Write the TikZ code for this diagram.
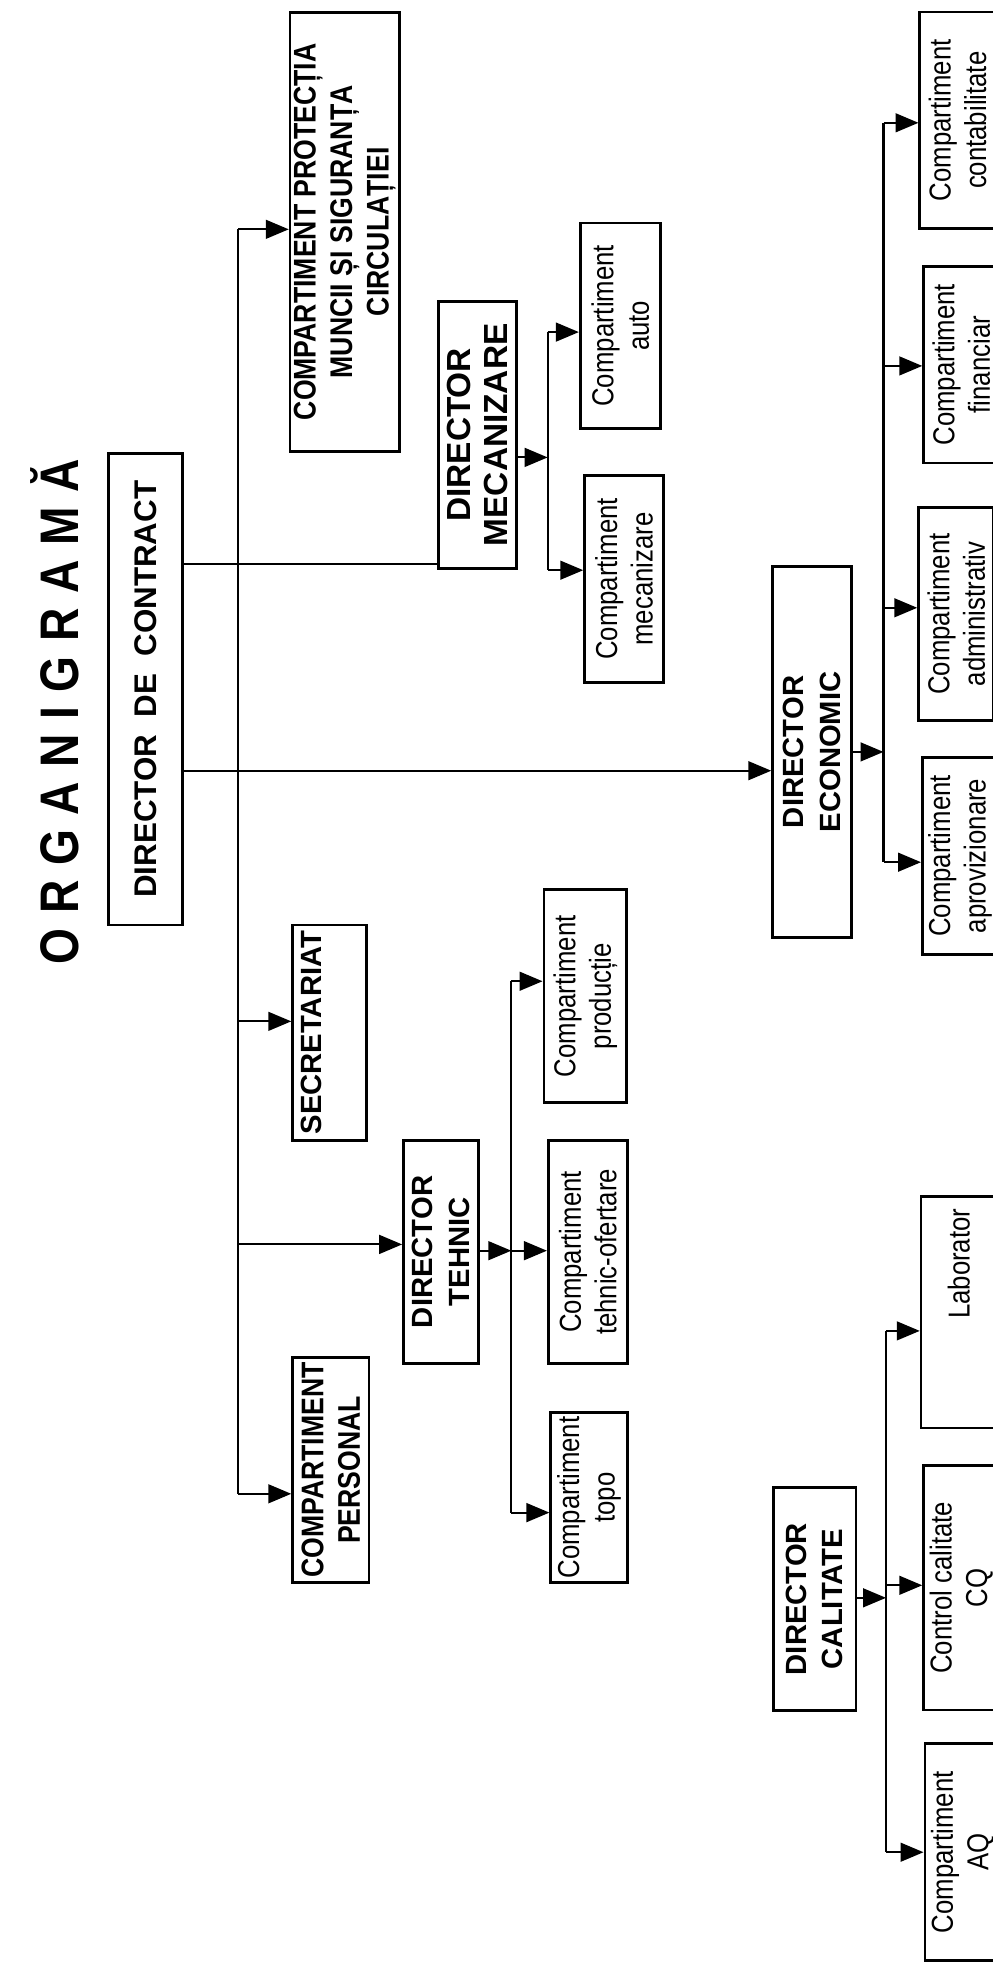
\documentclass[tikz,border=0pt]{standalone}
\usepackage{fontspec}
\setmainfont{Liberation Sans}
\newfontfamily\narrowfont{Liberation Sans}[FakeStretch=0.85]
\usepackage{tikz}
\usetikzlibrary{arrows.meta}
\newcommand\U{0.6pt}
\newcommand\gp{\hspace{7pt}}

\begin{document}
\begin{tikzpicture}[->,>={Triangle[length=11pt,width=9pt]},line width=1pt,
                    x=\U,y=-\U,
                    sz/.style 2 args={minimum width=#1*\U,minimum height=#2*\U}]

  \tikzstyle{box}=[rectangle,draw,line width=1.3pt,rotate=90,align=center,inner sep=0pt,
                   font=\narrowfont\fontsize{14.5}{17}\selectfont]
  \tikzstyle{head}=[box,font=\fontsize{14}{17.5}\selectfont\bfseries]
  \tikzstyle{nhead}=[box,font=\narrowfont\fontsize{15}{17.5}\selectfont\bfseries]

  \useasboundingbox (0,0) rectangle (792,1568);

  \node[rotate=90,font=\narrowfont\fontsize{26}{26}\selectfont\bfseries] (TTL) at (44,568)
       {O\gp R\gp G\gp A\gp N\gp I\gp G\gp R\gp A\gp M\gp Ă};

  % top level
  \node[head,sz={376}{59},font=\fontsize{15}{18}\selectfont\bfseries] (DC) at (116,550) {DIRECTOR\ \ DE\ \ CONTRACT};
  \node[nhead,sz={350}{87}] (PROT) at (275,185) {COMPARTIMENT PROTECȚIA\\ MUNCII ȘI SIGURANȚA\\ CIRCULAȚIEI};
  \node[head,sz={172}{59},text depth=18pt] (SEC) at (263,824) {SECRETARIAT};
  \node[nhead,sz={180}{61}] (PERS) at (264,1173) {COMPARTIMENT\\ PERSONAL};
  \node[head,sz={178}{60}] (DT)   at (352,999)  {DIRECTOR\\ TEHNIC};
  \node[head,sz={213}{62},font=\fontsize{16}{18}\selectfont\bfseries] (DM) at (381,347) {DIRECTOR\\ MECANIZARE};
  \node[head,sz={296}{63}] (DE)   at (648,600)  {DIRECTOR\\ ECONOMIC};
  \node[head,sz={178}{66}] (DCAL) at (650,1276) {DIRECTOR\\ CALITATE};

  % compartments
  \node[box,sz={136}{61}] (TOPO) at (470,1195) {Compartiment\\ topo};
  \node[box,sz={178}{63}] (OFER) at (469,999)  {Compartiment\\ tehnic-ofertare};
  \node[box,sz={170}{66}] (PROD) at (467,795)  {Compartiment\\ producție};
  \node[box,sz={164}{64}] (AUTO) at (495,260)  {Compartiment\\ auto};
  \node[box,sz={165}{63}] (MEC)  at (498,462)  {Compartiment\\ mecanizare};
  \node[box,sz={173}{60}] (CONT) at (764,96)   {Compartiment\\ contabilitate};
  \node[box,sz={157}{60}] (FIN)  at (767,291)  {Compartiment\\ financiar};
  \node[box,sz={170}{60}] (ADM)  at (763,490)  {Compartiment\\ administrativ};
  \node[box,sz={157}{60}] (APRO) at (766,683)  {Compartiment\\ aprovizionare};
  \node[box,sz={185}{60},text width=165*\U,align=right] (LAB) at (765,1047) {Laborator};
  \node[box,sz={195}{60}] (CQ)   at (767,1267) {Control calitate\\ CQ};
  \node[box,sz={173}{60}] (AQ)   at (768,1478) {Compartiment\\ AQ};

  % bus points
  \coordinate (B1) at (190,183);
  \coordinate (B2) at (190,815);
  \coordinate (B3) at (190,993);
  \coordinate (B4) at (190,1192);
  \coordinate (C1) at (190,450);
  \coordinate (C2) at (190,615);
  \coordinate (M0) at (437,365);
  \coordinate (M1) at (437,265);
  \coordinate (M2) at (437,455);
  \coordinate (T0) at (408,998);
  \coordinate (T1) at (408,783);
  \coordinate (T2) at (408,1207);
  \coordinate (E0) at (705,600);
  \coordinate (E1) at (705,98);
  \coordinate (E2) at (705,292);
  \coordinate (E3) at (705,485);
  \coordinate (E4) at (705,688);
  \coordinate (Q0) at (707,1275);
  \coordinate (Q1) at (707,1062);
  \coordinate (Q2) at (707,1265);
  \coordinate (Q3) at (707,1478);

  \path
  (B1) edge [-] (B4)
  (B1) edge     (B1 -| PROT.north)
  (B2) edge     (B2 -| SEC.north)
  (B3) edge     (B3 -| DT.north)
  (B4) edge     (B4 -| PERS.north)
  (C1 -| DC.south) edge [-] (C1 -| DM.north)
  (C2 -| DC.south) edge     (C2 -| DE.north)

  (M0 -| DM.south) edge (M0)
  (M1) edge [-] (M2)
  (M1) edge (M1 -| AUTO.north)
  (M2) edge (M2 -| MEC.north)

  (T0 -| DT.south) edge (T0)
  (T1) edge [-] (T2)
  (T1) edge (T1 -| PROD.north)
  (T0) edge (T0 -| OFER.north)
  (T2) edge (T2 -| TOPO.north)

  (E0 -| DE.south) edge (E0)
  (E1) edge [-] (E4)
  (E1) edge (E1 -| CONT.north)
  (E2) edge (E2 -| FIN.north)
  (E3) edge (E3 -| ADM.north)
  (E4) edge (E4 -| APRO.north)

  (Q0 -| DCAL.south) edge (Q0)
  (Q1) edge [-] (Q3)
  (Q1) edge (Q1 -| LAB.north)
  (Q2) edge (Q2 -| CQ.north)
  (Q3) edge (Q3 -| AQ.north)
  ;
\end{tikzpicture}
\end{document}
